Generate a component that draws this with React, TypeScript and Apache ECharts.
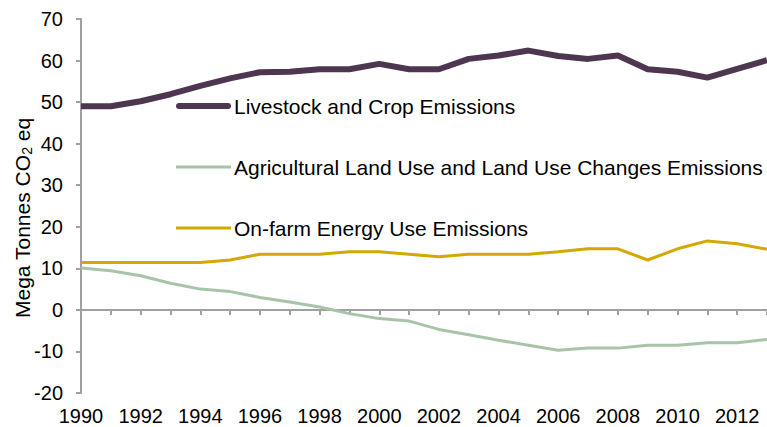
import React, { useEffect, useRef } from "react";
import * as echarts from "echarts";

const years = ["1990","1991","1992","1993","1994","1995","1996","1997","1998","1999","2000","2001","2002","2003","2004","2005","2006","2007","2008","2009","2010","2011","2012","2013"];
const livestock = [49.0,49.0,50.2,51.9,53.9,55.7,57.2,57.3,57.9,57.9,59.2,57.9,57.9,60.4,61.2,62.4,61.1,60.4,61.2,57.9,57.3,55.9,58.0,60.1];
const landUse = [10.1,9.4,8.2,6.4,5.0,4.4,3.0,1.9,0.7,-0.9,-2.1,-2.7,-4.7,-6.0,-7.3,-8.5,-9.7,-9.2,-9.2,-8.5,-8.5,-7.9,-7.9,-7.1];
const energy = [11.4,11.4,11.4,11.4,11.4,12.0,13.4,13.4,13.4,14.0,14.0,13.4,12.8,13.4,13.4,13.4,14.0,14.7,14.7,12.0,14.7,16.6,15.9,14.6];
const seriesNames = ["Livestock and Crop Emissions","Agricultural Land Use and Land Use Changes Emissions","On-farm Energy Use Emissions"];

const FONT = "Liberation Sans, Arial, sans-serif";

export default function App() {
  const ref = useRef<HTMLDivElement>(null);
  useEffect(() => {
    const chart = echarts.init(ref.current!, null, { renderer: "svg" });
    const axisGray = "#a0a0a0";
    chart.setOption({
      animation: false,
      textStyle: { fontFamily: FONT },
      grid: { left: 81, right: 0, top: 19, bottom: 34, outerBoundsMode: "none", containLabel: false },
      legend: {
        orient: "vertical",
        left: 171,
        top: 89,
        itemGap: 37,
        itemWidth: 55,
        itemHeight: 14,
        textStyle: { fontSize: 21, lineHeight: 24, color: "#000", fontFamily: FONT, padding: [0, 0, 0, -2] },
        data: [
          { name: seriesNames[0], icon: "path://M3,0H52A3,3,0,0,1,52,6H3A3,3,0,0,1,3,0Z" },
          { name: seriesNames[1], icon: "path://M0,0H55V3H0Z" },
          { name: seriesNames[2], icon: "path://M0,0H55V3H0Z" },
        ],
      },
      xAxis: [
        {
          type: "category",
          data: years,
          boundaryGap: false,
          axisLine: { onZero: true, lineStyle: { color: axisGray, width: 2 } },
          axisTick: { show: true, interval: 0, length: 5, lineStyle: { color: axisGray, width: 2 } },
          axisLabel: { show: false },
          splitLine: { show: false },
        },
        {
          type: "category",
          data: years,
          boundaryGap: false,
          position: "bottom",
          axisLine: { show: false },
          axisTick: { show: false },
          axisLabel: { show: true, interval: 1, fontSize: 20, lineHeight: 18, color: "#000", margin: 14, fontFamily: FONT },
          splitLine: { show: false },
        },
      ],
      yAxis: {
        type: "value",
        min: -20,
        max: 70,
        interval: 10,
        name: "Mega Tonnes CO{sub|2} eq",
        nameLocation: "middle",
        nameGap: 47,
        nameMoveOverlap: false,
        nameRotate: 90,
        nameTextStyle: {
          fontSize: 21,
          color: "#000",
          fontFamily: FONT,
          padding: [0, 24, 0, 0],
          rich: { sub: { fontSize: 14, verticalAlign: "bottom", padding: [10, 0, 0, 0], fontFamily: FONT } },
        },
        axisLine: { show: true, lineStyle: { color: axisGray, width: 2 } },
        axisTick: { show: true, length: 5, lineStyle: { color: axisGray, width: 2 } },
        axisLabel: { fontSize: 20, color: "#000", margin: 18, fontFamily: FONT },
        splitLine: { show: false },
      },
      series: [
        {
          name: seriesNames[0],
          type: "line",
          data: livestock,
          symbol: "none",
          lineStyle: { color: "#4e3650", width: 6 },
          itemStyle: { color: "#4e3650" },
          z: 3,
        },
        {
          name: seriesNames[1],
          type: "line",
          data: landUse,
          symbol: "none",
          lineStyle: { color: "#a8c4a8", width: 3 },
          itemStyle: { color: "#a8c4a8" },
        },
        {
          name: seriesNames[2],
          type: "line",
          data: energy,
          symbol: "none",
          lineStyle: { color: "#d4a800", width: 3 },
          itemStyle: { color: "#d4a800" },
        },
      ],
    });
    return () => chart.dispose();
  }, []);
  return <div ref={ref} style={{ width: 767, height: 427, position: "absolute", left: 0, top: 0 }} />;
}
